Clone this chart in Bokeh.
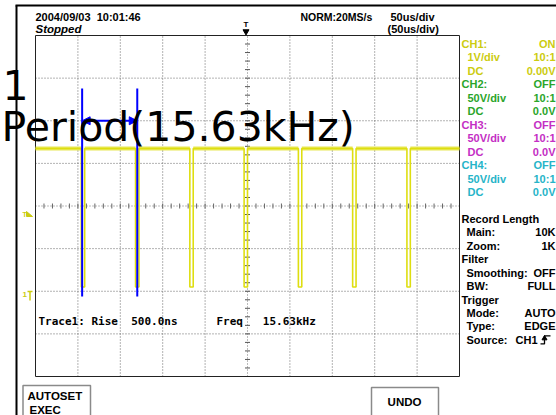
import numpy as np
from bokeh.plotting import figure
from bokeh.models import Range1d, Label, Arrow, NormalHead
from bokeh.embed import file_html
from bokeh.resources import INLINE

NB = "\u00a0"

# ---------------- values ----------------
time_per_div_us = 50
n_hdiv = 10
volts_per_div = 1.0
n_vdiv = 8
ch1_ground_div = -2.0            # CH1 ground marker, divisions from centre
fall_times_us = [-196, -132, -68, -4, 60, 124, 188]
rise_times_us = [-192, -128, -64, 0, 64, 128, 192]
high_level_v = 3.35
low_level_v = 0.1
cursor_times_us = [-195, -130]
cursor_label = ["1", "Period(15.63kHz)"]

header_left = ["2004/09/03" + NB * 2 + "10:01:46", "Stopped"]
header_mid = ["NORM:20MS/s"]
header_right = ["50us/div", "(50us/div)"]

channel_names = ["CH1:", "CH2:", "CH3:", "CH4:"]
channel_states = ["ON", "OFF", "OFF", "OFF"]
channel_scales = ["1V/div", "50V/div", "50V/div", "50V/div"]
channel_probes = ["10:1", "10:1", "10:1", "10:1"]
channel_coupling = ["DC", "DC", "DC", "DC"]
channel_offsets = ["0.00V", "0.0V", "0.0V", "0.0V"]
channel_colors = ["#cccc10", "#2aa52a", "#c42ec4", "#26b4c8"]

settings_labels = ["Record Length", "Main:", "Zoom:", "Filter", "Smoothing:", "BW:",
                   "Trigger", "Mode:", "Type:", "Source:"]
settings_values = ["", "10K", "1K", "", "OFF", "FULL", "", "AUTO", "EDGE", "CH1"]
settings_heading = [True, False, False, True, False, False, True, False, False, False]

measure_texts = ["Trace1:" + NB + "Rise" + NB * 2 + "500.0ns", "Freq" + NB * 3 + "15.63kHz"]
button_texts = [["AUTOSET", "EXEC"], ["UNDO"]]

# ---------------- layout (reference pixel positions) ----------------
PX0, PY0 = 0, 0
W, H = 556, 415
GX0, GX1 = 35, 459       # graticule left / right
GY0, GY1 = 35, 376       # graticule top / bottom

us_per_px = n_hdiv * time_per_div_us / (GX1 - GX0)
div_per_px = n_vdiv / (GY1 - GY0)
t_left = -n_hdiv / 2 * time_per_div_us
t_right = n_hdiv / 2 * time_per_div_us
x0 = t_left + (PX0 - GX0) * us_per_px
x1 = t_left + (PX0 + W - GX0) * us_per_px
y_top = n_vdiv / 2 + (GY0 - PY0) * div_per_px
y_bot = -n_vdiv / 2 - (PY0 + H - GY1) * div_per_px

p = figure(width=W, height=H, output_backend="svg", toolbar_location=None,
           x_range=Range1d(x0, x1), y_range=Range1d(y_bot, y_top),
           x_axis_type=None, y_axis_type=None, title=None, min_border=0)
p.outline_line_color = None
p.xgrid.visible = False
p.ygrid.visible = False
p.background_fill_color = "white"
p.border_fill_color = "white"
p.extra_x_ranges = {"px": Range1d(PX0, PX0 + W)}
p.extra_y_ranges = {"px": Range1d(PY0 + H, PY0)}

PXR = dict(x_range_name="px", y_range_name="px")


def lab(x, y, text, size=11, color="black", align="left", font="Liberation Sans",
        style="bold", baseline="middle"):
    p.add_layout(Label(x=x, y=y, text=text, text_font=font, text_font_size=f"{size}px",
                       text_font_style=style, text_color=color, text_align=align,
                       text_baseline=baseline, **PXR))


# ---------------- graticule ----------------
half_v = n_vdiv / 2
vx = [t_left + i * time_per_div_us for i in range(1, n_hdiv) if i != n_hdiv // 2]
p.segment(x0=vx, y0=[-half_v] * len(vx), x1=vx, y1=[half_v] * len(vx),
          line_color="#666666", line_width=1, line_dash="1 2")
hy = [-half_v + j for j in range(1, n_vdiv) if j != n_vdiv // 2]
p.segment(x0=[t_left] * len(hy), y0=hy, x1=[t_right] * len(hy), y1=hy,
          line_color="#666666", line_width=1, line_dash="1 2")
# centre cross with minor ticks
p.segment(x0=[t_left, 0], y0=[0, -half_v], x1=[t_right, 0], y1=[0, half_v],
          line_color="#777777", line_width=1, line_dash="1 2")
minor_t = np.arange(t_left, t_right + 1e-9, time_per_div_us / 5)
tick_h = 2.5 * div_per_px
p.segment(x0=minor_t, y0=-tick_h, x1=minor_t, y1=tick_h, line_color="#666666", line_width=1)
minor_v = np.arange(-half_v, half_v + 1e-9, 0.2)
tick_w = 2.5 * us_per_px
p.segment(x0=-tick_w, y0=minor_v, x1=tick_w, y1=minor_v, line_color="#555555", line_width=1)
# border
p.line(x=[t_left, t_right, t_right, t_left, t_left], y=[-half_v, -half_v, half_v, half_v, -half_v],
       line_color="#222222", line_width=1)

# ---------------- CH1 trace ----------------
hi = high_level_v / volts_per_div + ch1_ground_div
lo = low_level_v / volts_per_div + ch1_ground_div
tx, ty = [t_left], [hi]
for f, r in zip(fall_times_us, rise_times_us):
    tx += [f, f, r, r]
    ty += [hi, lo, lo, hi]
tx.append(t_right)
ty.append(hi)
band_x0 = [t_left] + rise_times_us
band_x1 = fall_times_us + [t_right]
p.segment(x0=band_x0, y0=[hi] * len(band_x0), x1=band_x1, y1=[hi] * len(band_x1),
          line_color="#e4e43a", line_width=4, line_alpha=0.85)
p.line(x=tx, y=ty, line_color="#dede10", line_width=1.6)

# ---------------- cursors ----------------
centre_y = GY0 + (GY1 - GY0) / 2
cur_top = (centre_y - 88) * div_per_px
cur_bot = (centre_y - 296) * div_per_px
p.segment(x0=cursor_times_us, y0=[cur_bot] * 2, x1=cursor_times_us, y1=[cur_top] * 2,
          line_color="#0000ff", line_width=2)
p.add_layout(Arrow(x_start=cursor_times_us[0], y_start=2.0, x_end=cursor_times_us[1], y_end=2.0,
                   line_color="#0000ff", line_width=2,
                   start=NormalHead(size=8, fill_color="#0000ff", line_color="#0000ff"),
                   end=NormalHead(size=8, fill_color="#0000ff", line_color="#0000ff")))

# big annotation text
lab(2, 84, cursor_label[0], size=41, font="DejaVu Sans", style="normal", baseline="alphabetic")
lab(1, 126, cursor_label[1], size=41, font="DejaVu Sans", style="normal", baseline="alphabetic")

# ---------------- frame lines ----------------
p.segment(x0=[16, 15], y0=[5, 5], x1=[16, 556], y1=[416, 5], line_color="black",
          line_width=2, **PXR)

# ---------------- header ----------------
lab(35, 16, header_left[0], size=11)
lab(35, 28.5, header_left[1], size=11.5, style="bold italic")
lab(300, 16, header_mid[0], size=10.5)
lab(390, 16, header_right[0], size=11)
lab(387, 28.5, header_right[1], size=11)
lab(245.5, 24, "T", size=8, align="center")
p.scatter(x=[245.5], y=[31], marker="inverted_triangle", size=6, color="black", **PXR)

# left markers (trigger level, CH1 ground)
lab(22, 214, "T", size=7, color="#cccc10")
p.patch(x=[26, 32, 26], y=[211, 216, 216], color="#cccc10", **PXR)
lab(22, 294, "1", size=8, color="#cccc10")
p.segment(x0=[27, 29.5], y0=[291, 291], x1=[32, 29.5], y1=[291, 300], line_color="#cccc10",
          line_width=1.5, **PXR)

# ---------------- right panel ----------------
row0, dy = 43.5, 13.45
for i in range(4):
    c = channel_colors[i]
    y = row0 + dy * 3 * i
    lab(461, y, channel_names[i], color=c)
    lab(555, y, channel_states[i], color=c, align="right")
    lab(467, y + dy, channel_scales[i], color=c)
    lab(555, y + dy, channel_probes[i], color=c, align="right")
    lab(467, y + 2 * dy, channel_coupling[i], color=c)
    lab(555, y + 2 * dy, channel_offsets[i], color=c, align="right")
for k, (name, val, head) in enumerate(zip(settings_labels, settings_values, settings_heading)):
    y = row0 + dy * (13 + k)
    lab(461 if head else 466, y, name)
    if val:
        lab(537 if val == "CH1" else 555, y, val, align="right")
ys = row0 + dy * 22
p.line(x=[540, 544, 544, 550], y=[ys + 4, ys + 4, ys - 4, ys - 4], line_color="black",
       line_width=1.3, **PXR)
p.scatter(x=[544], y=[ys - 1.5], marker="triangle", size=5, color="black", **PXR)

# ---------------- measurement line ----------------
lab(38, 320.5, measure_texts[0], size=11, font="DejaVu Sans Mono")
lab(216, 320.5, measure_texts[1], size=11, font="DejaVu Sans Mono")

# ---------------- buttons ----------------
p.quad(left=[22.5, 371], right=[90, 438], top=[385, 387], bottom=[417, 417],
       fill_color="white", line_color="#8a8a8a", line_width=1.5, **PXR)
lab(27, 395, button_texts[0][0], size=11.5)
lab(29, 409, button_texts[0][1], size=11.5)
lab(404, 401, button_texts[1][0], size=11.5, align="center")

open("out.html", "w").write(file_html(p, INLINE))
